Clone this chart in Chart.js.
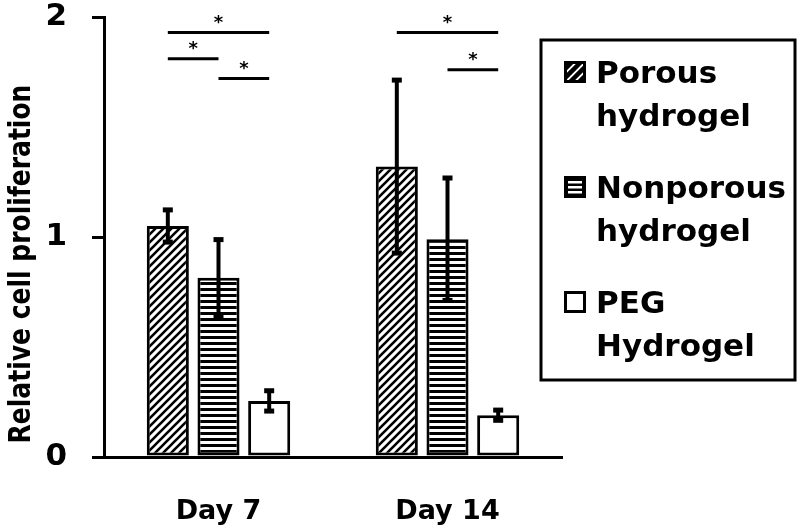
<!DOCTYPE html>
<html><head><meta charset="utf-8">
<script src="https://cdn.jsdelivr.net/npm/chart.js@4.4.1/dist/chart.umd.min.js"></script>
<style>html,body{margin:0;padding:0;background:#fff}#wrap{width:800px;height:531px;position:relative}</style>
</head><body><div id="wrap"><canvas id="c"></canvas></div>
<script>
// ---- data ----
const categories = ['Day 7', 'Day 14'];
const seriesLabels = ['Porous hydrogel', 'Nonporous hydrogel', 'PEG Hydrogel'];
const porousValues = [1.05, 1.32];
const nonporousValues = [0.815, 0.99];
const pegValues = [0.255, 0.19];
const porousErrors = [0.08, 0.40];
const nonporousErrors = [0.18, 0.285];
const pegErrors = [0.053, 0.03];
const yTickValues = [0, 1, 2];
const yAxisTitle = 'Relative cell proliferation';
// significance brackets: category index, from series, to series, height (y units), label
const sigCategory = [0, 0, 0, 1, 1];
const sigFromSeries = [0, 0, 1, 0, 1];
const sigToSeries = [2, 1, 2, 2, 2];
const sigHeight = [1.93, 1.81, 1.72, 1.93, 1.76];
const sigText = ['*', '*', '*', '*', '*'];

const FONT = '"DejaVu Sans", sans-serif';

function diagPattern(step, lw) {
  const c = document.createElement('canvas'); c.width = step; c.height = step;
  const g = c.getContext('2d');
  g.fillStyle = '#fff'; g.fillRect(0, 0, step, step);
  g.strokeStyle = '#000'; g.lineWidth = lw; g.beginPath();
  g.moveTo(-2, step + 2); g.lineTo(step + 2, -2);
  g.moveTo(-2, 2); g.lineTo(2, -2);
  g.moveTo(step - 2, step + 2); g.lineTo(step + 2, step - 2);
  g.stroke();
  return g.createPattern(c, 'repeat');
}
function horizPattern(step, h) {
  const c = document.createElement('canvas'); c.width = step; c.height = step;
  const g = c.getContext('2d');
  g.fillStyle = '#fff'; g.fillRect(0, 0, step, step);
  g.fillStyle = '#000'; g.fillRect(0, 0, step, h);
  return g.createPattern(c, 'repeat');
}
const fills = [diagPattern(8, 2.6), horizPattern(6, 3), '#ffffff'];
const values = [porousValues, nonporousValues, pegValues];
const errors = [porousErrors, nonporousErrors, pegErrors];

const overlay = {
  id: 'overlay',
  afterDatasetsDraw(chart) {
    const ctx = chart.ctx, ys = chart.scales.y, area = chart.chartArea;
    ctx.save();
    // error bars
    ctx.strokeStyle = '#000'; ctx.fillStyle = '#000'; ctx.lineWidth = 4;
    values.forEach((vals, i) => {
      const meta = chart.getDatasetMeta(i);
      vals.forEach((v, j) => {
        const x = meta.data[j].x;
        const t = ys.getPixelForValue(v + errors[i][j]);
        const b = ys.getPixelForValue(v - errors[i][j]);
        ctx.beginPath(); ctx.moveTo(x, t); ctx.lineTo(x, b); ctx.stroke();
        ctx.fillRect(x - 5, t - 1, 10, 5);
        ctx.fillRect(x - 5, b - 4, 10, 5);
      });
    });
    // significance lines
    ctx.lineWidth = 3;
    ctx.font = 'bold 18px ' + FONT; ctx.textAlign = 'center'; ctx.textBaseline = 'middle';
    sigCategory.forEach((c, k) => {
      const x1 = chart.getDatasetMeta(sigFromSeries[k]).data[c].x;
      const x2 = chart.getDatasetMeta(sigToSeries[k]).data[c].x;
      const y = ys.getPixelForValue(sigHeight[k]);
      ctx.beginPath(); ctx.moveTo(x1, y); ctx.lineTo(x2, y); ctx.stroke();
      ctx.fillText(sigText[k], (x1 + x2) / 2, y - 9);
    });
    // y axis title
    ctx.translate(30, (area.top + area.bottom) / 2 + 27);
    ctx.rotate(-Math.PI / 2);
    ctx.scale(1, 1.2);
    ctx.font = 'bold 25px ' + FONT; ctx.textAlign = 'center'; ctx.textBaseline = 'alphabetic';
    ctx.fillText(yAxisTitle, 0, 0);
    ctx.restore();
  },
  afterDraw(chart) {
    const ctx = chart.ctx;
    const L = 541, T = 40, W = 254, H = 340;
    ctx.save();
    ctx.fillStyle = '#fff'; ctx.fillRect(L, T, W, H);
    ctx.strokeStyle = '#000'; ctx.lineWidth = 3; ctx.strokeRect(L, T, W, H);
    ctx.font = 'bold 31px ' + FONT; ctx.textAlign = 'left'; ctx.textBaseline = 'alphabetic';
    chart.data.datasets.forEach((ds, i) => {
      const base = T + 43 + i * 115;
      const sx = L + 23, sy = base - 22, s = 22;
      ctx.save();
      ctx.beginPath(); ctx.rect(sx, sy, s, s); ctx.clip();
      if (i === 0) {
        ctx.fillStyle = '#fff'; ctx.fillRect(sx, sy, s, s);
        ctx.strokeStyle = '#000'; ctx.lineWidth = 4.5; ctx.beginPath();
        for (let d = -22; d <= 44; d += 9) { ctx.moveTo(sx + d, sy + s); ctx.lineTo(sx + d + s, sy); }
        ctx.stroke();
      } else if (i === 1) {
        ctx.fillStyle = '#000'; ctx.fillRect(sx, sy, s, s);
        ctx.fillStyle = '#fff';
        [5, 10, 15].forEach(o => ctx.fillRect(sx + 4, sy + o, s - 8, 2.5));
      } else {
        ctx.fillStyle = '#fff'; ctx.fillRect(sx, sy, s, s);
      }
      ctx.restore();
      ctx.strokeStyle = '#000'; ctx.lineWidth = 3; ctx.strokeRect(sx + 1.5, sy + 1.5, s - 3, s - 3);
      const words = ds.label.split(' ');
      const line1 = words.shift(), line2 = words.join(' ');
      ctx.fillStyle = '#000';
      ctx.fillText(line1, L + 55, base);
      ctx.fillText(line2, L + 55, base + 43);
    });
    ctx.restore();
  }
};

new Chart(document.getElementById('c'), {
  type: 'bar',
  data: {
    labels: categories,
    datasets: seriesLabels.map((lab, i) => ({
      label: lab,
      data: values[i],
      backgroundColor: fills[i],
      borderColor: '#000',
      borderWidth: 3,
      borderSkipped: false,
      categoryPercentage: 0.664,
      barPercentage: 0.83
    }))
  },
  options: {
    responsive: true,
    maintainAspectRatio: false,
    animation: false,
    devicePixelRatio: 1,
    layout: { padding: { left: 0, right: 238, top: 17, bottom: 0 } },
    plugins: { legend: { display: false }, tooltip: { enabled: false } },
    scales: {
      x: {
        offset: true,
        grid: { display: false, drawTicks: false },
        border: { display: true, color: '#000', width: 3 },
        ticks: { color: '#000', padding: 41, maxRotation: 0, font: { family: FONT, size: 27, weight: 'bold', lineHeight: 1 } },
        afterFit(s) { s.height = 74; s.paddingLeft = 0; s.paddingRight = 0; }
      },
      y: {
        min: 0, max: 2,
        afterBuildTicks(s) { s.ticks = yTickValues.map(v => ({ value: v })); },
        grid: { drawOnChartArea: false, drawTicks: true, tickLength: 12, color: '#000', lineWidth: 3 },
        border: { display: true, color: '#000', width: 3 },
        ticks: { color: '#000', padding: 25, font: { family: FONT, size: 31, weight: 'bold', lineHeight: 1 } },
        afterFit(s) { s.width = 104; s.paddingTop = 0; s.paddingBottom = 0; }
      }
    }
  },
  plugins: [overlay]
});
</script>
</body></html>
